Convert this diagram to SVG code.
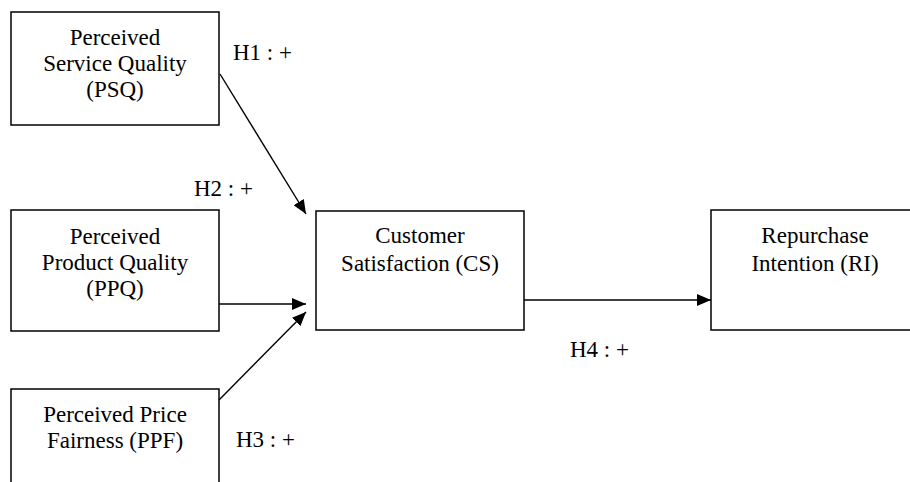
<svg xmlns="http://www.w3.org/2000/svg" width="910" height="482" viewBox="0 0 910 482">
<defs>
<style>
.box{fill:#fff;stroke:#000;stroke-width:1.5}
.t{font-family:"Liberation Serif","Times New Roman",serif;font-size:23px;fill:#000;text-anchor:middle}
.l{font-family:"Liberation Serif","Times New Roman",serif;font-size:23px;fill:#000}
.c{stroke:#000;stroke-width:1.4;fill:none}
</style>
<marker id="ah" markerWidth="14" markerHeight="12" refX="14" refY="6" orient="auto" markerUnits="userSpaceOnUse">
<path d="M0,0 L14,6 L0,12 Z" fill="#000"/>
</marker>
</defs>
<rect width="910" height="482" fill="#fff"/>
<g id="PSQ">
<rect class="box" x="11" y="12" width="208" height="113"/>
<text class="t" x="115" y="45">Perceived</text>
<text class="t" x="115" y="71">Service Quality</text>
<text class="t" x="115" y="97">(PSQ)</text>
</g>
<g id="PPQ">
<rect class="box" x="11" y="210" width="208" height="121"/>
<text class="t" x="115" y="244">Perceived</text>
<text class="t" x="115" y="270">Product Quality</text>
<text class="t" x="115" y="296">(PPQ)</text>
</g>
<g id="PPF">
<rect class="box" x="11" y="389" width="208" height="110"/>
<text class="t" x="115" y="422">Perceived Price</text>
<text class="t" x="115" y="448">Fairness (PPF)</text>
</g>
<g id="CS">
<rect class="box" x="316" y="211" width="208" height="119"/>
<text class="t" x="420" y="243">Customer</text>
<text class="t" x="420" y="271">Satisfaction (CS)</text>
</g>
<g id="RI">
<rect class="box" x="711" y="210" width="208" height="120"/>
<text class="t" x="815" y="243">Repurchase</text>
<text class="t" x="815" y="271">Intention (RI)</text>
</g>
<g id="connectors">
<line class="c" x1="220" y1="74" x2="306" y2="214" marker-end="url(#ah)"/>
<line class="c" x1="219" y1="304" x2="306" y2="304" marker-end="url(#ah)"/>
<line class="c" x1="219" y1="400" x2="306" y2="312" marker-end="url(#ah)"/>
<line class="c" x1="524" y1="300" x2="711" y2="300" marker-end="url(#ah)"/>
</g>
<g id="labels">
<text class="l" x="233" y="60">H1 : +</text>
<text class="l" x="194" y="196">H2 : +</text>
<text class="l" x="236" y="447">H3 : +</text>
<text class="l" x="570" y="357">H4 : +</text>
</g>
</svg>
